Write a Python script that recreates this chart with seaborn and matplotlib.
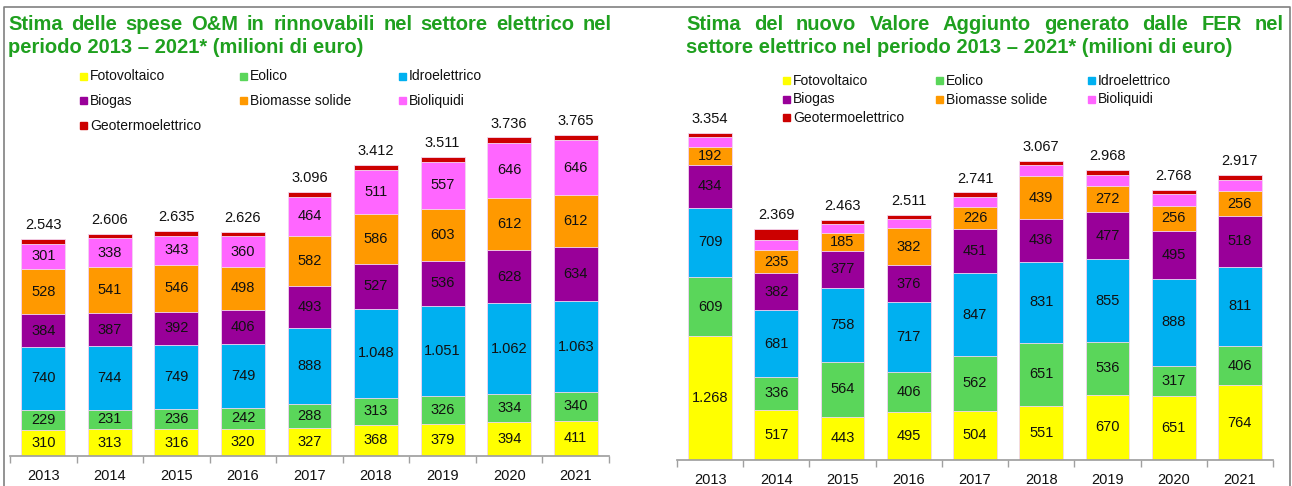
import numpy as np
import pandas as pd
import seaborn as sns
import matplotlib.pyplot as plt
from matplotlib.lines import Line2D
from matplotlib.patches import Rectangle

years = ['2013', '2014', '2015', '2016', '2017', '2018', '2019', '2020', '2021']
sources = ['Fotovoltaico', 'Eolico', 'Idroelettrico', 'Biogas',
           'Biomasse solide', 'Bioliquidi', 'Geotermoelettrico']
colors = ['#FFFF00', '#5AD65A', '#00B0F0', '#990099', '#FF9900', '#FF66FF', '#CC0000']

# spese O&M (milioni di euro)
om_foto = [310, 313, 316, 320, 327, 368, 379, 394, 411]
om_eolico = [229, 231, 236, 242, 288, 313, 326, 334, 340]
om_idro = [740, 744, 749, 749, 888, 1048, 1051, 1062, 1063]
om_biogas = [384, 387, 392, 406, 493, 527, 536, 628, 634]
om_biomasse = [528, 541, 546, 498, 582, 586, 603, 612, 612]
om_bioliquidi = [301, 338, 343, 360, 464, 511, 557, 646, 646]
om_geo = [51, 52, 53, 51, 54, 59, 59, 60, 59]
om_totale = [2543, 2606, 2635, 2626, 3096, 3412, 3511, 3736, 3765]

# valore aggiunto (milioni di euro)
va_foto = [1268, 517, 443, 495, 504, 551, 670, 651, 764]
va_eolico = [609, 336, 564, 406, 562, 651, 536, 317, 406]
va_idro = [709, 681, 758, 717, 847, 831, 855, 888, 811]
va_biogas = [434, 382, 377, 376, 451, 436, 477, 495, 518]
va_biomasse = [192, 235, 185, 382, 226, 439, 272, 256, 256]
va_bioliquidi = [100, 103, 96, 95, 106, 114, 113, 115, 113]
va_geo = [42, 115, 40, 40, 45, 45, 45, 46, 49]
va_totale = [3354, 2369, 2463, 2511, 2741, 3067, 2968, 2768, 2917]

W, H = 1292, 486
sns.set_theme(style='white')
plt.rcParams['font.family'] = ['Liberation Sans', 'DejaVu Sans']
GREEN = '#1fa01f'

fig = plt.figure(figsize=(W / 100, H / 100), dpi=100)


def fmt(v):
    return f'{v:,}'.replace(',', '.')


def px_ax(x0, x1, base, top):
    return fig.add_axes([x0 / W, 1 - base / H, (x1 - x0) / W, (base - top) / H])


def draw(ax, layers, totals, labelled, ymax, fs):
    df = pd.DataFrame(dict(zip(sources, layers)))
    df['anno'] = years
    cum = df[sources].cumsum(axis=1)
    for i in reversed(range(len(sources))):
        sns.barplot(x=df['anno'], y=cum[sources[i]], color=colors[i], width=0.66,
                    saturation=1, edgecolor='#f4d8f4', linewidth=0.6, ax=ax)
    for i in labelled:
        bottom = cum[sources[i]] - df[sources[i]]
        for j, v in enumerate(df[sources[i]]):
            ax.text(j, bottom[j] + v / 2, fmt(v), ha='center', va='center', fontsize=fs, color='#111111')
    for j, t in enumerate(totals):
        ax.annotate(fmt(t), (j, t), xytext=(0, 5), textcoords='offset points',
                    ha='center', va='bottom', fontsize=fs, color='#111111')
    ax.set_ylim(0, ymax)
    ax.set_xlim(-0.5, len(years) - 0.5)
    ax.set_xlabel('')
    ax.set_ylabel('')
    ax.set_yticks([])
    for s in ['left', 'right', 'top']:
        ax.spines[s].set_visible(False)
    ax.spines['bottom'].set_color('#a0a0a0')
    ax.set_xticks(np.arange(-0.5, len(years)), minor=True)
    ax.tick_params(axis='x', which='major', length=0, labelsize=10.5, pad=9, colors='#111111')
    ax.tick_params(axis='x', which='minor', length=5, color='#a0a0a0', bottom=True)


def justify(words, x0, x1, y, size):
    texts = [fig.text(x0 / W, 1 - y / H, w, fontsize=size, fontweight='bold', color=GREEN,
                      va='center', ha='left') for w in words]
    fig.canvas.draw()
    r = fig.canvas.get_renderer()
    widths = [t.get_window_extent(r).width for t in texts]
    gap = (x1 - x0 - sum(widths)) / (len(words) - 1)
    x = x0
    for t, w in zip(texts, widths):
        t.set_x(x / W)
        x += w + gap


def legend(xs, y0, dy):
    order = [[0, 3, 6], [1, 4], [2, 5]]
    for c, col in enumerate(order):
        for r, k in enumerate(col):
            y = y0 + r * dy
            fig.add_artist(Rectangle((xs[c] / W, 1 - (y + 3.5) / H), 7 / W, 7 / H,
                                     transform=fig.transFigure, color=colors[k]))
            fig.text((xs[c] + 10) / W, 1 - y / H, sources[k], fontsize=10,
                     va='center', ha='left', color='#111111')


# left panel
axl = px_ax(10, 609, 456, 456 - 0.08526 * 4000)
draw(axl, [om_foto, om_eolico, om_idro, om_biogas, om_biomasse, om_bioliquidi, om_geo],
     om_totale, [0, 1, 2, 3, 4, 5], 4000, 10.5)

# right panel
axr = px_ax(677, 1273, 460, 460 - 0.0976 * 3600)
draw(axr, [va_foto, va_eolico, va_idro, va_biogas, va_biomasse, va_bioliquidi, va_geo],
     va_totale, [0, 1, 2, 3, 4], 3600, 10.5)

# titles
justify('Stima delle spese O&M in rinnovabili nel settore elettrico nel'.split(), 8, 612, 25, 14.5)
fig.text(8 / W, 1 - 47 / H, 'periodo 2013 – 2021* (milioni di euro)', fontsize=14.5,
         fontweight='bold', color=GREEN, va='center', ha='left')
justify('Stima del nuovo Valore Aggiunto generato dalle FER nel'.split(), 686, 1284, 25, 14.5)
fig.text(686 / W, 1 - 47 / H, 'settore elettrico nel periodo 2013 – 2021* (milioni di euro)',
         fontsize=14.5, fontweight='bold', color=GREEN, va='center', ha='left')

legend([80, 240, 399], 76, 25)
legend([783, 936, 1088], 81, 18.5)

# frame
fig.add_artist(Line2D([4 / W, 4 / W, 1290 / W, 1290 / W], [0, 1 - 7 / H, 1 - 7 / H, 0],
                      transform=fig.transFigure, color='#808080', lw=1.2))

plt.savefig('out.png', dpi=100)
